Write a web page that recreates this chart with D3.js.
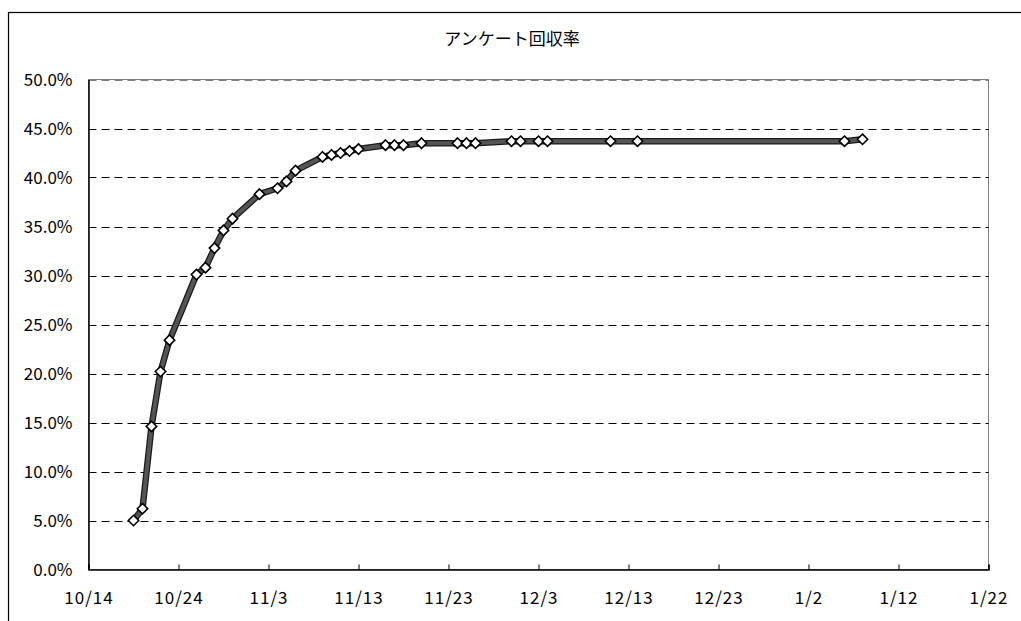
<!DOCTYPE html>
<html>
<head>
<meta charset="utf-8">
<script src="https://cdn.jsdelivr.net/npm/d3@7/dist/d3.min.js"></script>
<style>
html,body{margin:0;padding:0;background:#fff;}
svg{display:block;}
text{font-family:"Noto Sans CJK JP","Noto Sans",sans-serif;fill:#000;}
</style>
</head>
<body>
<svg id="chart" width="1021" height="621"></svg>
<script>
// ---- data ----
const title = "アンケート回収率";
const dates = ["10/19","10/20","10/21","10/22","10/23","10/26","10/27","10/28","10/29","10/30",
  "11/2","11/4","11/5","11/6","11/9","11/10","11/11","11/12","11/13","11/16","11/17","11/18",
  "11/20","11/24","11/25","11/26","11/30","12/1","12/3","12/4","12/11","12/14","1/6","1/8"];
const rates = [5.0,6.2,14.6,20.2,23.4,30.1,30.8,32.8,34.6,35.8,
  38.3,38.9,39.6,40.7,42.1,42.3,42.5,42.7,42.9,43.3,43.3,43.3,
  43.5,43.5,43.5,43.5,43.7,43.7,43.7,43.7,43.7,43.7,43.7,43.9];
const xTickLabels = ["10/14","10/24","11/3","11/13","11/23","12/3","12/13","12/23","1/2","1/12","1/22"];
const yTickValues = [0,5,10,15,20,25,30,35,40,45,50];

// month/day -> Date (Oct-Dec in first year, Jan in next)
function parseMD(s){
  const [m,d] = s.split("/").map(Number);
  return new Date(m >= 10 ? 2008 : 2009, m-1, d);
}
const data = dates.map((d,i)=>({date:parseMD(d), v:rates[i]}));
const xTicks = xTickLabels.map(parseMD);

const svg = d3.select("#chart");
const L = 88.5, R = 988.5, T = 79.5, B = 569.5;

const x = d3.scaleTime().domain([xTicks[0], xTicks[xTicks.length-1]]).range([L, R]);
const y = d3.scaleLinear().domain([0, 50]).range([B, T]);

// outer chart border
svg.append("rect").attr("x",8.5).attr("y",12.5).attr("width",1100).attr("height",700)
  .attr("fill","#fff").attr("stroke","#000").attr("stroke-width",1.2);

// title
svg.append("text").attr("x",512).attr("y",45).attr("text-anchor","middle")
  .attr("font-size",17).text(title);

// plot area border (gray)
svg.append("rect").attr("x",L).attr("y",T).attr("width",R-L).attr("height",B-T)
  .attr("fill","none").attr("stroke","#808080").attr("stroke-width",1);

// gridlines
svg.append("g").selectAll("line").data(yTickValues.filter(v=>v>0)).join("line")
  .attr("x1",L).attr("x2",R).attr("y1",d=>Math.round(y(d))+0.5).attr("y2",d=>Math.round(y(d))+0.5)
  .attr("stroke",d=>d===50?"#808080":"#000").attr("stroke-width",1).attr("stroke-dasharray","8,5");

// y axis
const yAxis = d3.axisLeft(y).tickValues(yTickValues).tickSize(0).tickPadding(16)
  .tickFormat(d=>d.toFixed(1)+"%");
const gy = svg.append("g").attr("transform",`translate(${L},0)`).call(yAxis);
gy.select(".domain").attr("stroke","#000").attr("stroke-width",1.5);
gy.selectAll("text").attr("font-size",17).attr("font-family",'"Noto Sans CJK JP",sans-serif').attr("dy","0.38em");

// x axis
const xAxis = d3.axisBottom(x).tickValues(xTicks).tickSize(-5).tickPadding(22)
  .tickFormat((d,i)=>xTickLabels[i]);
const gx = svg.append("g").attr("transform",`translate(0,${B})`).call(xAxis);
gx.select(".domain").attr("stroke","#000").attr("stroke-width",1.5);
gx.selectAll(".tick line").attr("stroke","#000");
gx.selectAll("text").attr("font-size",17).attr("letter-spacing","1px")
  .attr("font-family",'"Noto Sans CJK JP",sans-serif');

// line
const line = d3.line().x(d=>x(d.date)).y(d=>y(d.v));
svg.append("path").datum(data).attr("d",line).attr("fill","none")
  .attr("stroke","#1a1a1a").attr("stroke-width",6.5).attr("stroke-linejoin","round");
svg.append("path").datum(data).attr("d",line).attr("fill","none")
  .attr("stroke","#555").attr("stroke-width",4).attr("stroke-linejoin","round");

// diamond markers
const s = 5.2;
svg.append("g").selectAll("path").data(data).join("path")
  .attr("transform",d=>`translate(${x(d.date)},${y(d.v)})`)
  .attr("d",`M0,${-s}L${s},0L0,${s}L${-s},0Z`)
  .attr("fill","#fff").attr("stroke","#000").attr("stroke-width",1.6);
</script>
</body>
</html>
